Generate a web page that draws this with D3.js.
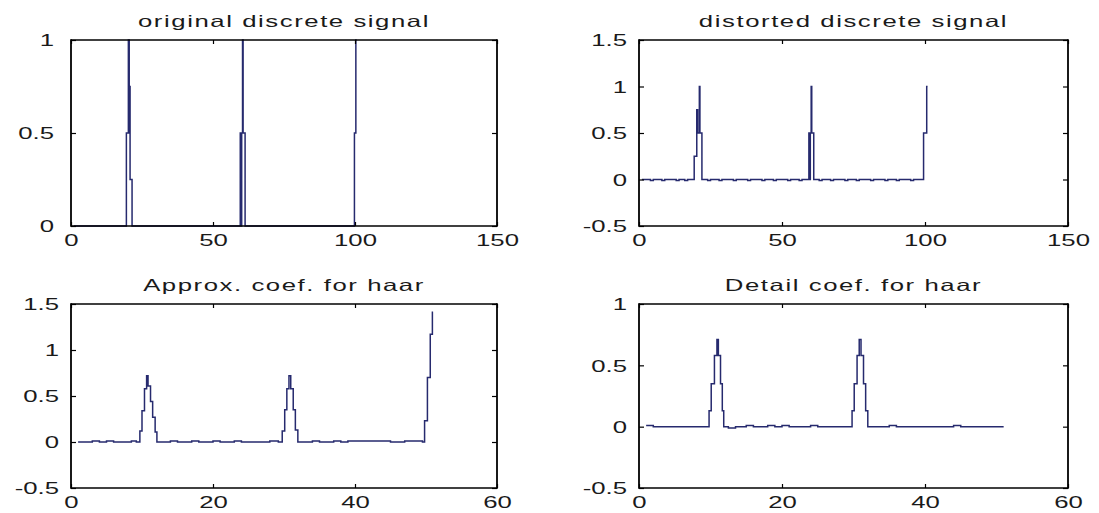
<!DOCTYPE html>
<html><head><meta charset="utf-8">
<script src="https://cdn.jsdelivr.net/npm/d3@7"></script>
<style>html,body{margin:0;padding:0;background:#fff;} svg{display:block;}</style>
</head><body>
<svg id="chart" width="1099" height="513"></svg>
<script>
// ---------- data ----------
const titles = ["original discrete signal", "distorted discrete signal", "Approx. coef. for haar", "Detail coef. for haar"];

const topXTicks = [0, 50, 100, 150];
const bottomXTicks = [0, 20, 40, 60];
const origYTicks = [0, 0.5, 1];
const distYTicks = [-0.5, 0, 0.5, 1, 1.5];
const approxYTicks = [-0.5, 0, 0.5, 1, 1.5];
const detailYTicks = [-0.5, 0, 0.5, 1];

const topXDomain = [0, 150];
const bottomXDomain = [0, 60];
const origYDomain = [0, 1];
const distYDomain = [-0.5, 1.5];
const approxYDomain = [-0.5, 1.5];
const detailYDomain = [-0.5, 1];

// [x, y] change points (held until the next x)
const originalSignal = [[1,0],[19.5,0.5],[20.2,1],[20.5,0.5],[20.6,0.75],[20.8,0.25],[21.5,0],
  [59.6,0.5],[59.9,0],[60.1,0.5],[60.4,1],[60.6,0.5],[61.3,0],
  [99.8,0.5],[100.3,1],[100.6,1]];

const distortedSignal = [[1,0],[4,-0.01],[5,0],[8,-0.01],[9,0],[13,-0.01],[14,0],[16,-0.01],[17,0],
  [19.3,0.25],[20.2,0.75],[20.5,0.5],[21.1,1],[21.3,0.5],[22.0,0],
  [24,-0.01],[25,0],[28,-0.01],[29,0],[33,-0.01],[34,0],[38,-0.01],[39,0],[43,-0.01],[44,0],[47,-0.01],[48,0],[52,-0.01],[53,0],[56,-0.01],[57,0],
  [59.4,0.5],[59.7,0],[59.9,0.5],[60.2,1],[60.4,0.5],[61.1,0],
  [63,-0.01],[64,0],[67,-0.01],[68,0],[72,-0.01],[73,0],[76,-0.01],[77,0],[81,-0.01],[82,0],[86,-0.01],[87,0],[90,-0.01],[91,0],[95,-0.01],[96,0],
  [99.5,0.5],[100.6,1],[100.9,1]];

const approxCoef = [[1,0],[3,0.01],[4,0],[5,0.01],[6,0],[8.5,0.01],[9.2,0],
  [9.7,0.12],[10.0,0.34],[10.35,0.58],[10.65,0.72],[10.85,0.61],[11.2,0.44],[11.5,0.27],[11.85,0.11],[12.1,0],
  [14,0.01],[15,0],[17,0.01],[18,0],[20,0.01],[21,0],[23,0.01],[24,0],[28,0.01],[29.2,0],
  [29.75,0.12],[30.1,0.35],[30.4,0.58],[30.7,0.72],[30.95,0.58],[31.3,0.35],[31.6,0.13],[31.95,0],
  [34,0.01],[35,0],[37,0.01],[38,0],[39,0.01],[45,0],[47,0.01],[49.5,0],
  [49.8,0.23],[50.2,0.7],[50.6,1.17],[50.9,1.41],[51,1.41]];

const detailCoef = [[1,0.01],[2,0],
  [9.8,0.13],[10.1,0.35],[10.55,0.58],[10.9,0.71],[11.1,0.58],[11.4,0.35],[11.65,0.13],[11.85,0],
  [12.5,-0.01],[13.5,0],[15,0.01],[16,0],[18,0.01],[19,0],[20,0.01],[21,0],[24,0.01],[25,0],
  [29.8,0.13],[30.1,0.35],[30.5,0.58],[30.8,0.71],[31.05,0.58],[31.4,0.35],[31.7,0.13],[32.0,0],
  [35,0.01],[36,0],[44,0.01],[45,0],[51,0]];

// ---------- layout / style ----------
const panels = [
  {title: titles[0], box: [71, 40, 497, 226], xd: topXDomain, yd: origYDomain, xt: topXTicks, yt: origYTicks, data: originalSignal, gap: 17},
  {title: titles[1], box: [639, 40, 1068, 226], xd: topXDomain, yd: distYDomain, xt: topXTicks, yt: distYTicks, data: distortedSignal, gap: 12},
  {title: titles[2], box: [71, 304, 497, 488], xd: bottomXDomain, yd: approxYDomain, xt: bottomXTicks, yt: approxYTicks, data: approxCoef, gap: 12},
  {title: titles[3], box: [639, 304, 1068, 488], xd: bottomXDomain, yd: detailYDomain, xt: bottomXTicks, yt: detailYTicks, data: detailCoef, gap: 12}
];
const SX = 1.56;            // horizontal stretch of the text
const FONT = '"Liberation Sans", Arial, Helvetica, sans-serif';
const FS = 16.5;
const LINE = "#262a6e";
const TXT = "#1a1a1a";
const fmt = d => String(d);

const svg = d3.select("#chart");
svg.append("rect").attr("width", 1099).attr("height", 513).attr("fill", "#fff");

panels.forEach(p => {
  const [x0, y0, x1, y1] = p.box;
  const x = d3.scaleLinear().domain(p.xd).range([x0, x1]);
  const y = d3.scaleLinear().domain(p.yd).range([y1, y0]);
  const g = svg.append("g");

  // series
  const line = d3.line().x(d => x(d[0])).y(d => y(d[1])).curve(d3.curveStepAfter);
  g.append("path").datum(p.data).attr("d", line)
    .attr("fill", "none").attr("stroke", LINE).attr("stroke-width", 1.5)
    .attr("stroke-linejoin", "miter");

  // axes (inward ticks)
  const bottom = g.append("g").attr("transform", `translate(0,${y1})`)
    .call(d3.axisBottom(x).tickValues(p.xt).tickSizeInner(-4).tickSizeOuter(0).tickFormat(fmt));
  const top = g.append("g").attr("transform", `translate(0,${y0})`)
    .call(d3.axisTop(x).tickValues(p.xt).tickSizeInner(-4).tickSizeOuter(0).tickFormat(""));
  const left = g.append("g").attr("transform", `translate(${x0},0)`)
    .call(d3.axisLeft(y).tickValues(p.yt).tickSizeInner(-5).tickSizeOuter(0).tickFormat(fmt));
  const right = g.append("g").attr("transform", `translate(${x1},0)`)
    .call(d3.axisRight(y).tickValues(p.yt).tickSizeInner(-5).tickSizeOuter(0).tickFormat(""));

  [bottom, top, left, right].forEach(a => {
    a.select(".domain").remove();
    a.selectAll(".tick line").attr("stroke", "#000").attr("stroke-width", 1.2);
    a.attr("font-family", FONT).attr("font-size", FS);
  });
  bottom.selectAll(".tick text").attr("y", 20.5).attr("dy", 0)
    .attr("fill", TXT).attr("transform", `scale(${SX},1)`);
  left.selectAll(".tick text").attr("x", 0).attr("dy", "0.35em")
    .attr("fill", TXT).attr("transform", `translate(${-p.gap},0) scale(${SX},1)`);

  // box
  g.append("line").attr("x1", x0).attr("x2", x1).attr("y1", y0).attr("y2", y0).attr("stroke", "#000").attr("stroke-width", 1.3);
  g.append("line").attr("x1", x0).attr("x2", x1).attr("y1", y1).attr("y2", y1).attr("stroke", "#000").attr("stroke-width", 1.3);
  g.append("line").attr("x1", x0).attr("x2", x0).attr("y1", y0 - 0.65).attr("y2", y1 + 0.65).attr("stroke", "#000").attr("stroke-width", 1.8);
  g.append("line").attr("x1", x1).attr("x2", x1).attr("y1", y0 - 0.65).attr("y2", y1 + 0.65).attr("stroke", "#000").attr("stroke-width", 1.8);

  // title
  g.append("text").attr("transform", `translate(${(x0 + x1) / 2},${y0 - 13}) scale(${SX},1)`)
    .attr("text-anchor", "middle").attr("font-family", FONT).attr("font-size", FS)
    .attr("letter-spacing", "1px").attr("fill", TXT).text(p.title);
});
</script>
</body></html>
